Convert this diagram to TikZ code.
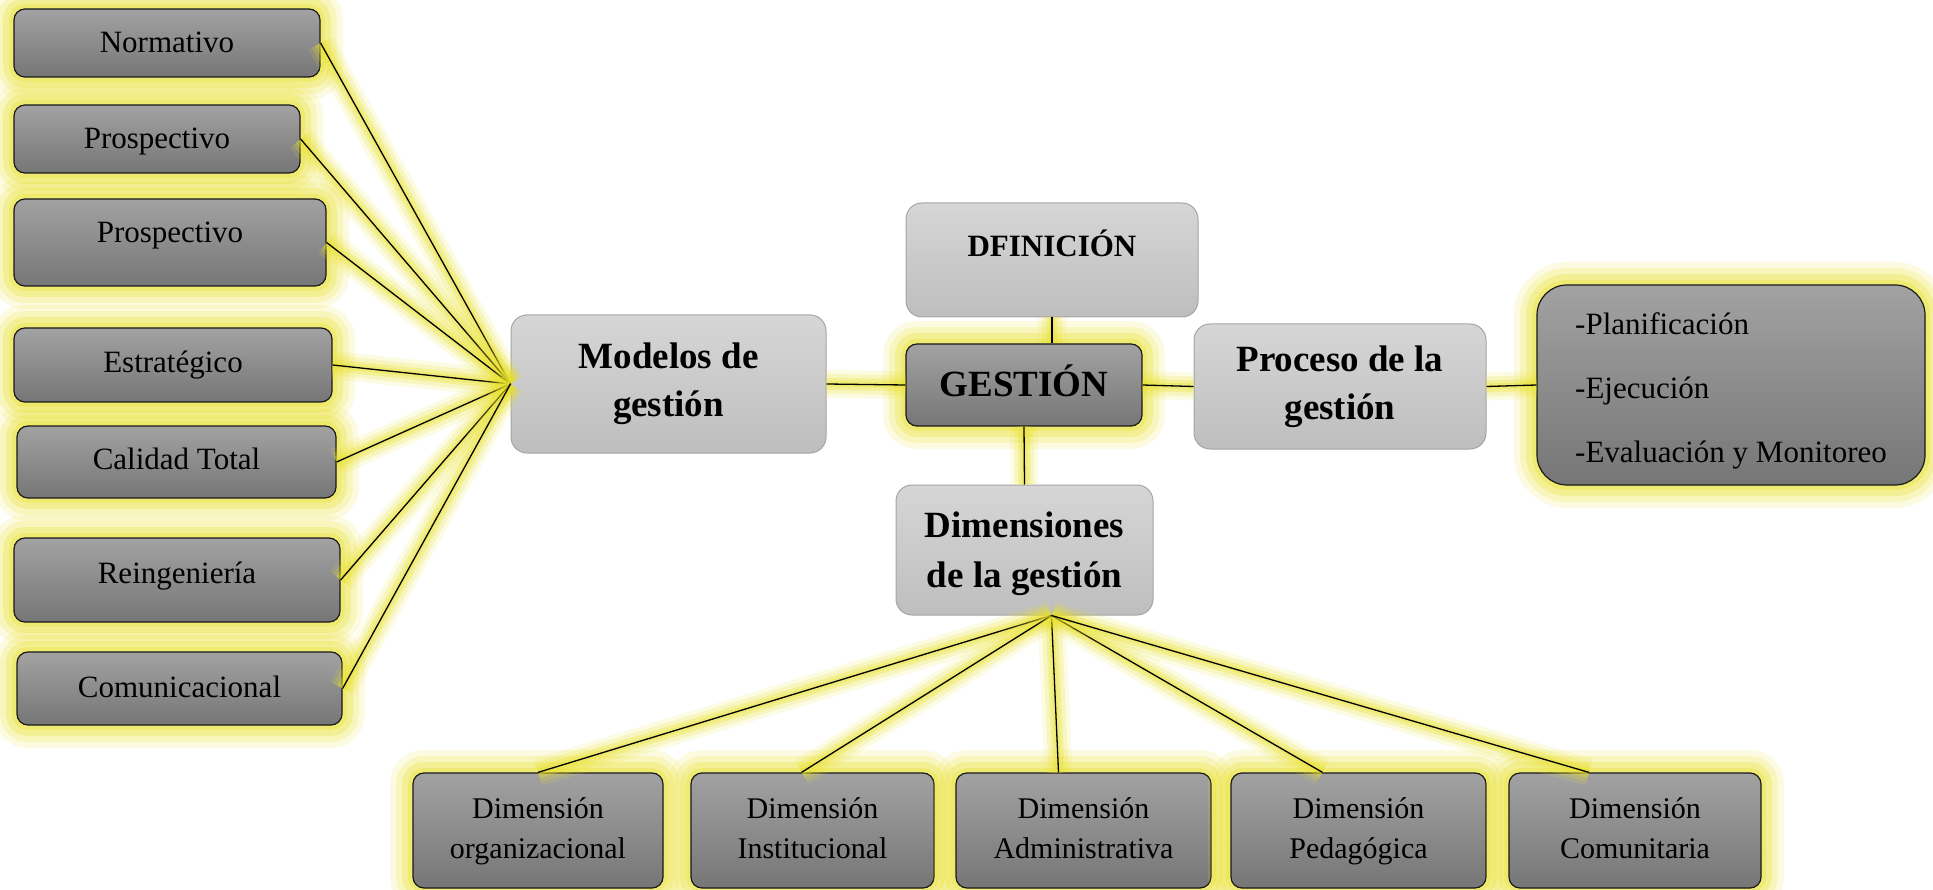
\documentclass[tikz,border=0pt]{standalone}
\usepackage{fontspec}
\setmainfont{Liberation Serif}
\definecolor{glowc}{RGB}{232,224,45}
\definecolor{dtop}{RGB}{162,162,162}
\definecolor{dbot}{RGB}{118,118,118}
\definecolor{ltop}{RGB}{214,214,214}
\definecolor{lbot}{RGB}{190,190,190}
\definecolor{lborder}{RGB}{165,165,165}
\tikzset{
 glow/.style={preaction={draw=glowc,line width=46pt,draw opacity=0.14},
              preaction={draw=glowc,line width=34pt,draw opacity=0.2},
              preaction={draw=glowc,line width=22pt,draw opacity=0.28},
              preaction={draw=glowc,line width=10pt,draw opacity=0.35}},
 darkbox/.style={glow, draw=black!90, line width=1.2pt, rounded corners=11pt,
   top color=dtop, bottom color=dbot, font=\fontsize{31}{40}\selectfont,
   align=center, inner sep=0pt},
 lightbox/.style={draw=lborder, line width=1pt, rounded corners=16pt,
   top color=ltop, bottom color=lbot, font=\bfseries\fontsize{37}{48}\selectfont,
   align=center, inner sep=0pt},
 conn/.style={preaction={draw=glowc,line width=28pt,draw opacity=0.13},
   preaction={draw=glowc,line width=20pt,draw opacity=0.2},
   preaction={draw=glowc,line width=12pt,draw opacity=0.3},
   preaction={draw=glowc,line width=6pt,draw opacity=0.3},
   draw=black, line width=1.3pt},
 oneline/.style={text height=21pt, text depth=1pt},
 dimbox/.style={darkbox, font=\fontsize{30}{40}\selectfont, minimum height=115pt},
}
\begin{document}
\begin{tikzpicture}[x=1pt,y=-1pt]
\useasboundingbox (0,0) rectangle (1933,890);
% left column
\node[darkbox,oneline,minimum width=306pt,minimum height=68pt] (norm) at (167,43) {Normativo};
\node[darkbox,oneline,minimum width=286pt,minimum height=68pt] (pro1) at (157,139) {Prospectivo};
\node[darkbox,text height=22pt,text depth=21pt,minimum width=312pt,minimum height=87pt] (pro2) at (170,242.5) {Prospectivo};
\node[darkbox,text height=21pt,text depth=5pt,minimum width=318pt,minimum height=74pt] (est) at (173,365) {Estratégico};
\node[darkbox,text height=21pt,text depth=7pt,minimum width=319pt,minimum height=72pt] (cal) at (176.5,462) {Calidad Total};
\node[darkbox,text height=21pt,text depth=15pt,minimum width=326pt,minimum height=84pt] (rei) at (177,580) {Reingeniería};
\node[darkbox,text height=21pt,text depth=4pt,minimum width=325pt,minimum height=73pt] (com) at (179.5,688.5) {Comunicacional};
% central
\node[lightbox,minimum width=315pt,minimum height=138pt] (mod) at (668.5,384) {Modelos de\\gestión};
\node[lightbox,font=\bfseries\fontsize{31}{40}\selectfont,text height=22pt,text depth=28pt,minimum width=292pt,minimum height=114pt] (def) at (1052,260) {DFINICIÓN};
\node[darkbox,font=\bfseries\fontsize{37}{48}\selectfont,text height=25pt,text depth=3pt,minimum width=236pt,minimum height=82pt] (ges) at (1024,385) {GESTIÓN};
\node[lightbox,minimum width=292pt,minimum height=125pt] (proc) at (1340,386.5) {Proceso de la\\gestión};
\node[darkbox,rounded corners=30pt,font=\fontsize{31}{64}\selectfont,align=left,inner xsep=30pt,minimum width=388pt,minimum height=200pt] (plan) at (1731,385) {\rule{0pt}{34pt}-Planificación\\-Ejecución\\-Evaluación y Monitoreo};
\node[lightbox,font=\bfseries\fontsize{37}{50}\selectfont,minimum width=257pt,minimum height=130pt] (dim) at (1024.5,550) {\rule{0pt}{34pt}Dimensiones\\de la gestión};
% bottom row
\node[dimbox,minimum width=250pt] (d1) at (538,830.5) {Dimensión\strut\\organizacional\strut};
\node[dimbox,minimum width=243pt] (d2) at (812.5,830.5) {Dimensión\strut\\Institucional\strut};
\node[dimbox,minimum width=255pt] (d3) at (1083.5,830.5) {Dimensión\strut\\Administrativa\strut};
\node[dimbox,minimum width=255pt] (d4) at (1358.5,830.5) {Dimensión\strut\\Pedagógica\strut};
\node[dimbox,minimum width=252pt] (d5) at (1635,830.5) {Dimensión\strut\\Comunitaria\strut};
% connectors
\coordinate (hub) at (mod.west);
\coordinate (dhub) at ([xshift=27pt]dim.south);
\foreach \n in {norm,pro1,pro2,est,cal,rei,com}{
  \draw[conn] (\n.east) -- (hub);
}
\draw[conn] (mod.east) -- (ges.west);
\draw[conn] (def.south) -- (def.south |- ges.north);
\draw[conn] (ges.south) -- (dim.north);
\draw[conn] (ges.east) -- (proc.west);
\draw[conn] (proc.east) -- (plan.west);
\draw[conn] (dhub) -- (d1.north);
\draw[conn] (dhub) -- ([xshift=-11pt]d2.north);
\draw[conn] (dhub) -- ([xshift=-25pt]d3.north);
\draw[conn] (dhub) -- ([xshift=-36pt]d4.north);
\draw[conn] (dhub) -- ([xshift=-46pt]d5.north);
\end{tikzpicture}
\end{document}
